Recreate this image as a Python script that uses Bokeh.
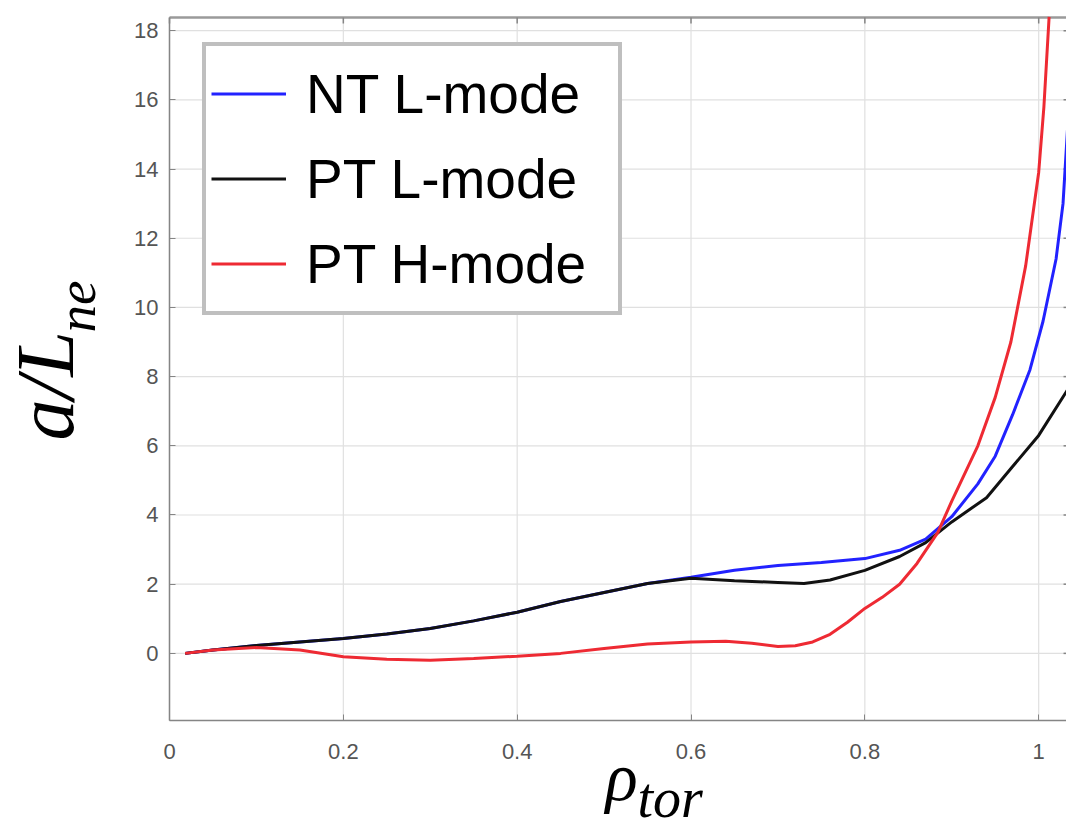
import math
from bokeh.plotting import figure
from bokeh.models import (Range1d, FixedTicker, LinearAxis, Legend, LegendItem, Label)
from bokeh.embed import file_html
from bokeh.resources import INLINE

# ---- data ----
nt_l_x = [0.018, 0.05, 0.1, 0.15, 0.2, 0.25, 0.3, 0.35, 0.4, 0.45, 0.5, 0.55, 0.6,
          0.65, 0.7, 0.75, 0.8, 0.84, 0.87, 0.9, 0.93, 0.95, 0.97, 0.99, 1.005,
          1.02, 1.028, 1.034]
nt_l_y = [0.0, 0.1, 0.23, 0.33, 0.43, 0.56, 0.72, 0.94, 1.19, 1.5, 1.76, 2.02, 2.2,
          2.4, 2.54, 2.63, 2.74, 2.98, 3.3, 3.95, 4.9, 5.7, 6.9, 8.2, 9.6,
          11.4, 13.0, 15.5]

pt_l_x = [0.018, 0.05, 0.1, 0.15, 0.2, 0.25, 0.3, 0.35, 0.4, 0.45, 0.5, 0.55, 0.6,
          0.65, 0.7, 0.73, 0.76, 0.8, 0.84, 0.87, 0.9, 0.94, 0.97, 1.0, 1.034]
pt_l_y = [0.0, 0.1, 0.23, 0.33, 0.43, 0.56, 0.72, 0.94, 1.19, 1.5, 1.76, 2.02, 2.17,
          2.1, 2.05, 2.02, 2.12, 2.4, 2.8, 3.2, 3.8, 4.5, 5.4, 6.3, 7.65]

pt_h_x = [0.018, 0.05, 0.1, 0.15, 0.2, 0.25, 0.3, 0.35, 0.4, 0.45, 0.5, 0.55, 0.6,
          0.64, 0.67, 0.7, 0.72, 0.74, 0.76, 0.78, 0.8, 0.82, 0.84, 0.86, 0.884,
          0.9, 0.93, 0.95, 0.968, 0.985, 1.0, 1.006, 1.012]
pt_h_y = [0.0, 0.1, 0.17, 0.1, -0.1, -0.17, -0.2, -0.15, -0.08, 0.0, 0.14, 0.27, 0.33,
          0.35, 0.29, 0.2, 0.22, 0.33, 0.55, 0.9, 1.3, 1.62, 2.0, 2.6, 3.5,
          4.4, 6.0, 7.4, 9.0, 11.2, 13.9, 15.8, 18.4]

series_names = ["NT L-mode", "PT L-mode", "PT H-mode"]
series_colors = ["#2222ff", "#111111", "#ee2a33"]

x_ticks = [0, 0.2, 0.4, 0.6, 0.8, 1.0]
x_tick_labels = ["0", "0.2", "0.4", "0.6", "0.8", "1"]
y_ticks = [0, 2, 4, 6, 8, 10, 12, 14, 16, 18]
y_tick_labels = ["0", "2", "4", "6", "8", "10", "12", "14", "16", "18"]

# axes box limits (data units); the right edge of the box lies just past the page edge
x_lo, x_hi, x_box = 0.0, 1.032, 1.0355
y_lo, y_hi = -1.94, 18.38

# ---- figure: the frame spans the whole canvas, the axes box sits inside ----
W, H = 1066, 830
left_px, top_px, bottom_px = 169, 17, 720
sx = (x_hi - x_lo) / (W - left_px)          # data per px, x
sy = (y_hi - y_lo) / (bottom_px - top_px)   # data per px, y
tick_len = 6
p = figure(width=W, height=H, output_backend="svg", toolbar_location=None,
           x_range=Range1d(x_lo - left_px * sx, x_hi),
           y_range=Range1d(y_lo - (H - bottom_px) * sy, y_hi + top_px * sy),
           min_border=0, x_axis_location=None, y_axis_location=None)
p.outline_line_color = None
p.background_fill_color = "white"
p.border_fill_color = "white"
p.xgrid.visible = False
p.ygrid.visible = False

tick_font = "Liberation Sans"
tick_color = "#555555"
axis_color = "#858585"

# grid lines, limited to the axes box
p.segment(x0=x_ticks, y0=[y_lo] * len(x_ticks), x1=x_ticks, y1=[y_hi] * len(x_ticks),
          line_color="#e0e0e0", line_width=1.2)
p.segment(x0=[x_lo] * len(y_ticks), y0=y_ticks, x1=[x_box] * len(y_ticks), y1=y_ticks,
          line_color="#e0e0e0", line_width=1.2)

# top border with inward ticks, and the inward ticks of the (cropped) right border
p.segment(x0=[x_lo], y0=[y_hi], x1=[x_box], y1=[y_hi], line_color="#9a9a9a", line_width=2.5)
p.segment(x0=x_ticks, y0=[y_hi] * len(x_ticks), x1=x_ticks,
          y1=[y_hi - tick_len * sy] * len(x_ticks), line_color=axis_color, line_width=1.5)
p.segment(x0=[x_box - tick_len * sx] * len(y_ticks), y0=y_ticks,
          x1=[x_box] * len(y_ticks), y1=y_ticks, line_color=axis_color, line_width=1.5)

xaxis = LinearAxis(ticker=FixedTicker(ticks=x_ticks), fixed_location=y_lo,
                   bounds=(x_lo, x_box),
                   major_label_overrides=dict(zip(x_ticks, x_tick_labels)))
yaxis = LinearAxis(ticker=FixedTicker(ticks=y_ticks), fixed_location=x_lo,
                   bounds=(y_lo, y_hi),
                   major_label_overrides=dict(zip(y_ticks, y_tick_labels)))
for ax in (xaxis, yaxis):
    ax.axis_line_color = axis_color
    ax.axis_line_width = 1.5
    ax.major_tick_line_color = axis_color
    ax.major_tick_in = tick_len
    ax.major_tick_out = 0
    ax.minor_tick_line_color = None
    ax.major_label_text_font = tick_font
    ax.major_label_text_font_size = "22px"
    ax.major_label_text_color = tick_color
xaxis.major_label_standoff = 23
yaxis.major_label_standoff = 11
p.add_layout(xaxis, "below")
p.add_layout(yaxis, "left")

r1 = p.line(nt_l_x, nt_l_y, line_color=series_colors[0], line_width=3)
r2 = p.line(pt_l_x, pt_l_y, line_color=series_colors[1], line_width=3)
r3 = p.line(pt_h_x, pt_h_y, line_color=series_colors[2], line_width=3)

legend = Legend(items=[LegendItem(label=series_names[0], renderers=[r1]),
                       LegendItem(label=series_names[1], renderers=[r2]),
                       LegendItem(label=series_names[2], renderers=[r3])],
                location=(202, 515))
legend.label_text_font = "Liberation Sans"
legend.label_text_font_size = "55px"
legend.label_text_color = "black"
legend.glyph_width = 75
legend.glyph_height = 85
legend.label_height = 85
legend.label_width = 307
legend.label_standoff = 20
legend.spacing = 0
legend.padding = 5
legend.margin = 0
legend.border_line_color = "#808080"
legend.border_line_width = 4
legend.background_fill_color = "white"
legend.background_fill_alpha = 1.0
p.add_layout(legend)

# ---- axis titles (as real text, with subscripts); screen units from bottom-left ----
serif = "Liberation Serif"
p.add_layout(Label(x=45, y=390, x_units="screen", y_units="screen", text="a/L",
                   angle=math.pi / 2, text_align="left", text_baseline="alphabetic",
                   text_font=serif, text_font_style="italic", text_font_size="82px",
                   text_color="black"))
p.add_layout(Label(x=76, y=498, x_units="screen", y_units="screen", text="ne",
                   angle=math.pi / 2, text_align="left", text_baseline="alphabetic",
                   text_font=serif, text_font_style="italic", text_font_size="55px",
                   text_color="black"))
p.add_layout(Label(x=605, y=54, x_units="screen", y_units="screen", text="ρ",
                   text_align="left", text_baseline="alphabetic",
                   text_font=serif, text_font_style="italic", text_font_size="67px",
                   text_color="black"))
p.add_layout(Label(x=637, y=33, x_units="screen", y_units="screen", text="tor",
                   text_align="left", text_baseline="alphabetic",
                   text_font=serif, text_font_style="italic", text_font_size="56px",
                   text_color="black"))

open("out.html", "w").write(file_html(p, INLINE))
